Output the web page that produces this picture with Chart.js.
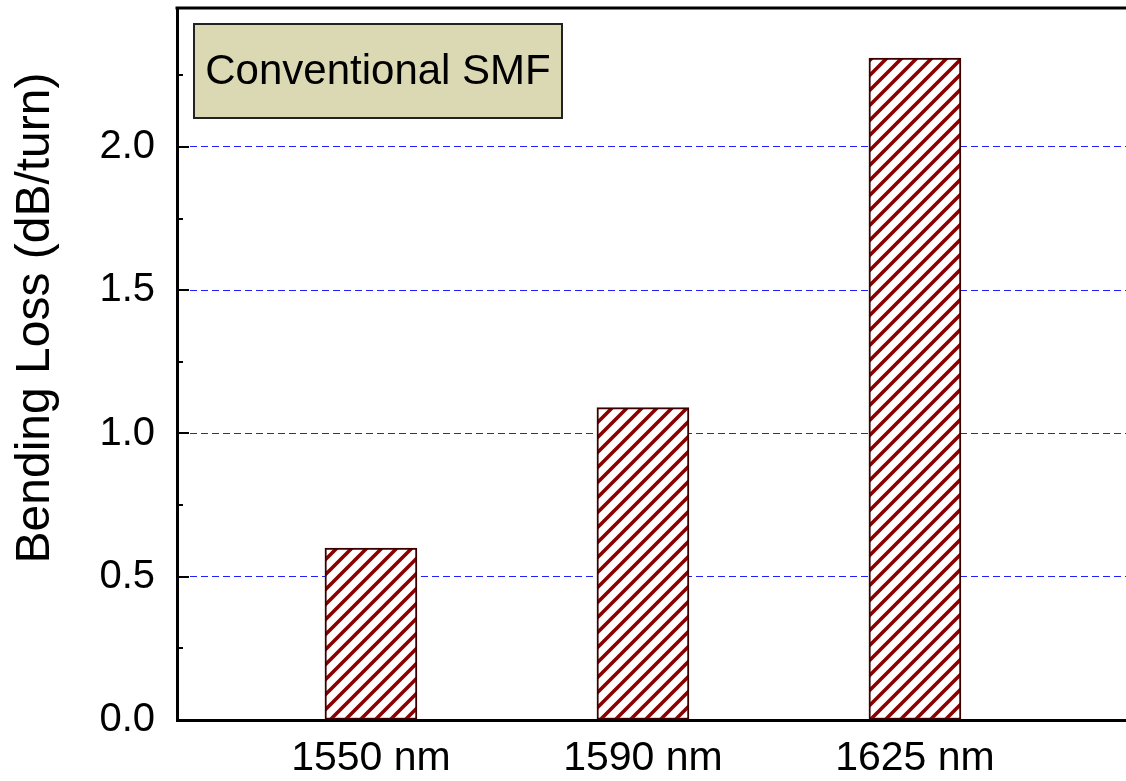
<!DOCTYPE html>
<html lang="en">
<head>
    <meta charset="UTF-8">
    <title>Bending Loss - Conventional SMF</title>
    <script src="https://cdn.jsdelivr.net/npm/chart.js"></script>
    <style>
        body { margin: 0; background: #fff; }
        #chart { display: block; }
    </style>
</head>
<body>
<canvas id="chart" width="1126" height="781"></canvas>
<script>
    // data
    const categories = ['1550 nm', '1590 nm', '1625 nm'];
    const bendingLoss = [0.6, 1.09, 2.31];
    const yTicks = [0.0, 0.5, 1.0, 1.5, 2.0];
    const yTitle = 'Bending Loss (dB/turn)';
    const boxLabel = 'Conventional SMF';

    const FONT = 'Liberation Sans, Arial, Helvetica, sans-serif';

    // diagonal hatch fill for the bars
    function makeHatch() {
        const s = 15;
        const c = document.createElement('canvas');
        c.width = s; c.height = s;
        const g = c.getContext('2d');
        g.fillStyle = '#fff';
        g.fillRect(0, 0, s, s);
        g.strokeStyle = '#8b0000';
        g.lineWidth = 3.6;
        g.beginPath();
        g.moveTo(-2, s + 2); g.lineTo(s + 2, -2);
        g.moveTo(-2, 2); g.lineTo(2, -2);
        g.moveTo(s - 2, s + 2); g.lineTo(s + 2, s - 2);
        g.stroke();
        return g.createPattern(c, 'repeat');
    }
    const ctx = document.getElementById('chart').getContext('2d');
    const hatch = makeHatch();

    // frame line on top, inward ticks on the y axis, axis title, label box
    const decorations = {
        id: 'decorations',
        afterDraw(chart) {
            const c = chart.ctx;
            const a = chart.chartArea;
            const y = chart.scales.y;
            c.save();
            c.strokeStyle = '#000';
            c.lineWidth = 3;
            c.beginPath();
            c.moveTo(a.left - 1.5, a.top);
            c.lineTo(chart.width, a.top);
            c.stroke();

            c.lineWidth = 2;
            for (let v = 0; v <= 2.25 + 1e-9; v += 0.25) {
                const py = Math.round(y.getPixelForValue(v));
                const major = Math.abs(v / 0.5 - Math.round(v / 0.5)) < 1e-6;
                c.beginPath();
                c.moveTo(a.left, py);
                c.lineTo(a.left + (major ? 12 : 6), py);
                c.stroke();
            }

            // y axis title, centred a bit above the middle as in the figure
            c.save();
            c.translate(36, 318);
            c.rotate(-Math.PI / 2);
            c.fillStyle = '#000';
            c.font = '48px ' + FONT;
            c.textAlign = 'center';
            c.textBaseline = 'middle';
            c.fillText(yTitle, 0, 0);
            c.restore();

            // label box
            c.fillStyle = '#dbd9b4';
            c.fillRect(194, 24, 368, 94);
            c.strokeStyle = '#222';
            c.lineWidth = 2;
            c.strokeRect(194, 24, 368, 94);
            c.fillStyle = '#000';
            c.font = '42px ' + FONT;
            c.textAlign = 'center';
            c.textBaseline = 'middle';
            c.fillText(boxLabel, 378, 72);
            c.restore();
        }
    };

    new Chart(ctx, {
        type: 'bar',
        data: {
            datasets: [{
                data: bendingLoss.map((v, i) => ({ x: i, y: v })),
                backgroundColor: hatch,
                borderColor: '#3a0000',
                borderWidth: 2,
                borderSkipped: false,
                barThickness: 92
            }]
        },
        options: {
            responsive: false,
            animation: false,
            layout: { autoPadding: false, padding: { top: 8, right: 0, left: 0, bottom: 0 } },
            plugins: {
                legend: { display: false },
                tooltip: { enabled: false }
            },
            scales: {
                x: {
                    type: 'linear',
                    offset: false,
                    min: -0.713,
                    max: 2.776,
                    afterBuildTicks: s => { s.ticks = categories.map((c, i) => ({ value: i })); },
                    afterFit: s => { s.height = 61; s.paddingLeft = 0; s.paddingRight = 0; },
                    ticks: {
                        callback: v => categories[v] ?? '',
                        color: '#000',
                        font: { family: FONT, size: 41 },
                        padding: 14,
                        maxRotation: 0
                    },
                    grid: { display: false, drawTicks: false, offset: false },
                    border: { display: true, color: '#000', width: 3 }
                },
                y: {
                    min: 0,
                    max: 2.485,
                    afterBuildTicks: s => { s.ticks = yTicks.map(v => ({ value: v })); },
                    afterFit: s => { s.width = 177; s.paddingTop = 0; s.paddingBottom = 0; },
                    ticks: {
                        callback: v => v.toFixed(1),
                        color: '#000',
                        font: { family: FONT, size: 40 },
                        padding: 22
                    },
                    grid: {
                        drawTicks: false,
                        lineWidth: 1,
                        color: c => (c.tick && c.tick.value === 0) ? 'rgba(0,0,0,0)' : '#1f1fff'
                    },
                    border: { display: true, color: '#000', width: 3, dash: [7, 4] },
                    title: { display: false }
                }
            }
        },
        plugins: [decorations]
    });
</script>
</body>
</html>
